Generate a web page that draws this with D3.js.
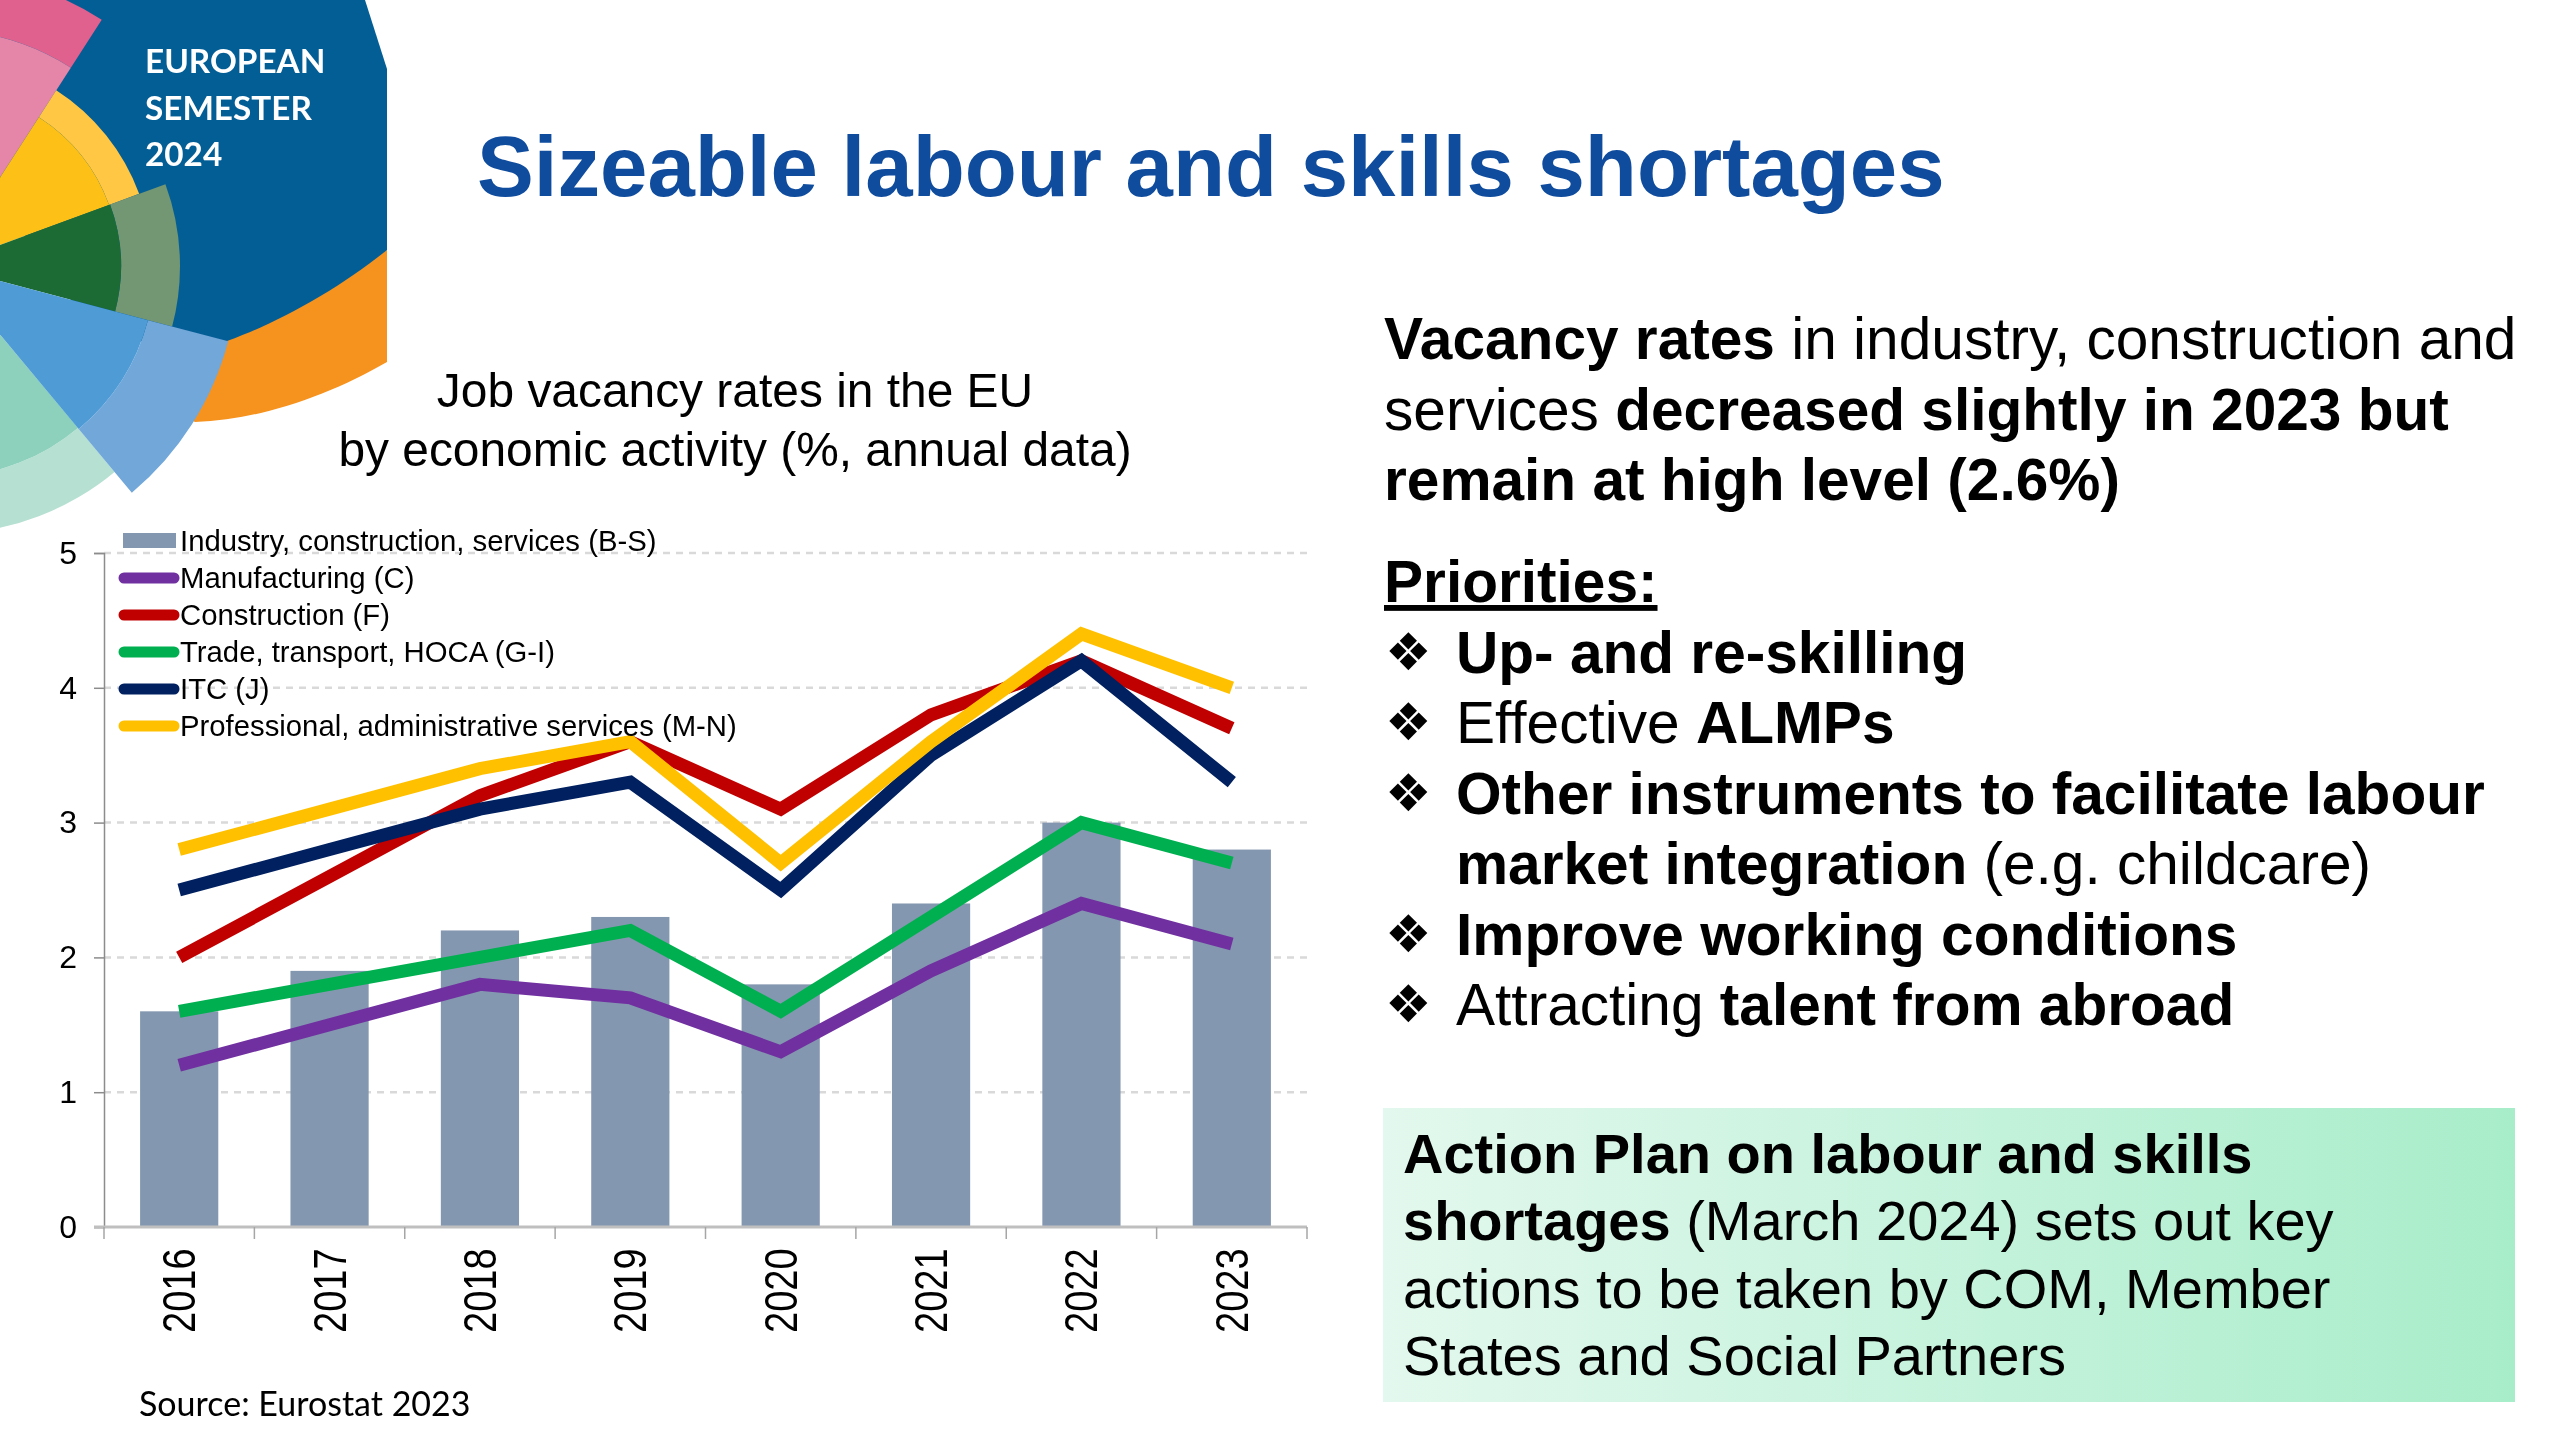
<!DOCTYPE html>
<html><head><meta charset="utf-8">
<script src="https://cdn.jsdelivr.net/npm/d3@7"></script>
<style>
html,body{margin:0;padding:0;background:#fff}
svg{display:block;filter:blur(0.6px)}
text{font-family:"Liberation Sans",Arial,sans-serif;fill:#000}
</style></head><body>
<svg id="c" width="2560" height="1440"></svg>
<script>
const years=["2016","2017","2018","2019","2020","2021","2022","2023"];
const totalRate=[1.6,1.9,2.2,2.3,1.8,2.4,3.0,2.8];
const manufacturing=[1.2,1.5,1.8,1.7,1.3,1.9,2.4,2.1];
const construction=[2.0,2.6,3.2,3.6,3.1,3.8,4.2,3.7];
const trade=[1.6,1.8,2.0,2.2,1.6,2.3,3.0,2.7];
const itc=[2.5,2.8,3.1,3.3,2.5,3.5,4.2,3.3];
const professional=[2.8,3.1,3.4,3.6,2.7,3.6,4.4,4.0];
const yTicks=[0,1,2,3,4,5];
const lineSeries=[
 {name:"Manufacturing (C)",values:manufacturing,color:"#7030A0"},
 {name:"Construction (F)",values:construction,color:"#C00000"},
 {name:"Trade, transport, HOCA (G-I)",values:trade,color:"#00B050"},
 {name:"ITC (J)",values:itc,color:"#002060"},
 {name:"Professional, administrative services (M-N)",values:professional,color:"#FFC000"}];
const barName="Industry, construction, services (B-S)";
const barColor="#8497B0";
const chartTitle=["Job vacancy rates in the EU","by economic activity (%, annual data)"];
const logoLines=["EUROPEAN","SEMESTER","2024"];
const introLines=[
 [["Vacancy rates",1],[" in industry, construction and",0]],
 [["services ",0],["decreased slightly in 2023 but",1]],
 [["remain at high level (2.6%)",1]]];
const priorityLines=[
 {b:1,t:[["Up- and re-skilling",1]]},
 {b:1,t:[["Effective ",0],["ALMPs",1]]},
 {b:1,t:[["Other instruments to facilitate labour",1]]},
 {b:0,t:[["market integration",1],[" (e.g. childcare)",0]]},
 {b:1,t:[["Improve working conditions",1]]},
 {b:1,t:[["Attracting ",0],["talent from abroad",1]]}];
const actionLines=[
 [["Action Plan on labour and skills",1]],
 [["shortages",1],[" (March 2024) sets out key",0]],
 [["actions to be taken by COM, Member",0]],
 [["States and Social Partners",0]]];

const svg=d3.select("#c");
const defs=svg.append("defs");
const g=defs.append("linearGradient").attr("id","boxg");
g.append("stop").attr("offset","0").attr("stop-color","#E3F8EE");
g.append("stop").attr("offset","1").attr("stop-color","#A8EDCA");

// ---------- logo ----------
const logo=svg.append("g");
logo.append("path").attr("fill","#F6921E").attr("d","M387,250L387,362C330,395 260,420 195,422L150,400L200,320Z");
logo.append("path").attr("fill","#045E96").attr("d","M60,0L365,0L387,69L387,250C340,288 280,322 227,341L100,341L0,200L0,0Z");
const deg=Math.PI/180;
const fan=logo.append("g").attr("transform","translate(-57,266)");
const sectors=[
 {a0:-20,a1:32.8,r0:236,r1:293,inC:"#E585A8",outC:"#E0608E"},
 {a0:32.8,a1:69.8,r0:177,r1:209,inC:"#FDC016",outC:"#FFC743"},
 {a0:69.8,a1:104.8,r0:178,r1:237,inC:"#1C6B34",outC:"#739673"},
 {a0:140.2,a1:215,r0:211,r1:268,inC:"#8DD1BC",outC:"#B6E0D2"},
 {a0:104.8,a1:140.2,r0:212,r1:295,inC:"#4E9BD6",outC:"#72A7DA"}];
const arc=d3.arc();
sectors.forEach(s=>{
 fan.append("path").attr("fill",s.outC).attr("d",arc({innerRadius:s.r0,outerRadius:s.r1,startAngle:s.a0*deg,endAngle:s.a1*deg}));
 fan.append("path").attr("fill",s.inC).attr("d",arc({innerRadius:0,outerRadius:s.r0,startAngle:s.a0*deg,endAngle:s.a1*deg}));
});
logoLines.forEach((t,i)=>logo.append("text").attr("x",145).attr("y",73+i*46.5)
 .style("font-family","Lato").style("font-weight",700).style("font-size","33.3px").style("fill","#fff").text(t));

// ---------- title ----------
svg.append("text").attr("x",477).attr("y",196).style("font-weight",700).style("font-size","85.2px")
 .style("fill","#0F4C9E").text("Sizeable labour and skills shortages");

// ---------- chart ----------
chartTitle.forEach((t,i)=>svg.append("text").attr("x",735).attr("y",407+i*59).attr("text-anchor","middle")
 .style("font-size","47.9px").text(t));

const x=d3.scaleBand().domain(years).range([104,1307]).paddingInner(0.48).paddingOuter(0.24);
const y=d3.scaleLinear().domain([0,5]).range([1227,553]);

const grid=svg.append("g");
grid.selectAll("line").data(yTicks.filter(d=>d>0)).join("line")
 .attr("x1",104).attr("x2",1307).attr("y1",d=>y(d)).attr("y2",d=>y(d))
 .attr("stroke","#D9D9D9").attr("stroke-width",2.5).attr("stroke-dasharray","7 6");

svg.append("g").selectAll("rect").data(years).join("rect")
 .attr("x",d=>x(d)).attr("width",x.bandwidth())
 .attr("y",(d,i)=>y(totalRate[i])).attr("height",(d,i)=>y(0)-y(totalRate[i]))
 .attr("fill",barColor);

const yAxis=svg.append("g").attr("transform","translate(104,0)")
 .call(d3.axisLeft(y).tickValues(yTicks).tickFormat(d3.format("d")).tickSize(10).tickPadding(17));
yAxis.selectAll("path,line").attr("stroke","#8C8C8C").attr("stroke-width",1.5);
yAxis.selectAll("text").style("font-size","32px");

const xEdge=d3.scaleLinear().domain([0,years.length]).range([104,1307]);
const xAxisG=svg.append("g").attr("transform","translate(0,1227)");
xAxisG.append("line").attr("x1",94).attr("x2",1307).attr("stroke","#BFBFBF").attr("stroke-width",3);
xAxisG.selectAll("line.t").data(d3.range(years.length+1)).join("line").attr("class","t")
 .attr("x1",d=>xEdge(d)).attr("x2",d=>xEdge(d)).attr("y1",0).attr("y2",12)
 .attr("stroke","#A6A6A6").attr("stroke-width",1.5);
xAxisG.selectAll("text").data(years).join("text")
 .attr("transform",d=>`translate(${x(d)+x.bandwidth()/2+16},106) rotate(-90) scale(1,1.2)`)
 .style("font-size","38px").text(d=>d);

const line=d3.line().x((d,i)=>x(years[i])+x.bandwidth()/2).y(d=>y(d));
svg.append("g").selectAll("path").data(lineSeries).join("path")
 .attr("d",d=>line(d.values)).attr("fill","none").attr("stroke",d=>d.color)
 .attr("stroke-width",13).attr("stroke-linejoin","miter");

// legend
const leg=svg.append("g");
const legY=i=>551+i*37;
leg.append("rect").attr("x",123).attr("y",533).attr("width",53).attr("height",15).attr("fill",barColor);
leg.append("text").attr("x",180).attr("y",legY(0)).style("font-size","29.3px").text(barName);
lineSeries.forEach((s,i)=>{
 leg.append("line").attr("x1",124).attr("x2",174).attr("y1",legY(i+1)-10).attr("y2",legY(i+1)-10)
  .attr("stroke",s.color).attr("stroke-width",11).attr("stroke-linecap","round");
 leg.append("text").attr("x",180).attr("y",legY(i+1)).style("font-size","29.3px").text(s.name);
});

svg.append("text").attr("x",139).attr("y",1416).style("font-family","Lato").style("font-size","34px").text("Source: Eurostat 2023");

// ---------- right text ----------
function rich(sel,parts){parts.forEach(p=>sel.append("tspan").style("font-weight",p[1]?700:400).text(p[0]));return sel;}
const FS="58.6px";
introLines.forEach((l,i)=>rich(svg.append("text").attr("x",1384).attr("y",359+i*70.5).style("font-size",FS),l));
svg.append("text").attr("x",1384).attr("y",602).style("font-size",FS).style("font-weight",700)
 .style("text-decoration","underline").text("Priorities:");
priorityLines.forEach((l,i)=>{
 const yy=673+i*70.4;
 if(l.b) svg.append("text").attr("x",1385).attr("y",yy-3).style("font-family","DejaVu Sans").style("font-size","52px").text("\u2756");
 rich(svg.append("text").attr("x",1456).attr("y",yy).style("font-size",FS),l.t);
});
svg.append("rect").attr("x",1383).attr("y",1108).attr("width",1132).attr("height",294).attr("fill","url(#boxg)");
actionLines.forEach((l,i)=>rich(svg.append("text").attr("x",1403).attr("y",1173+i*67.4).style("font-size","56px"),l));
</script>
</body></html>
